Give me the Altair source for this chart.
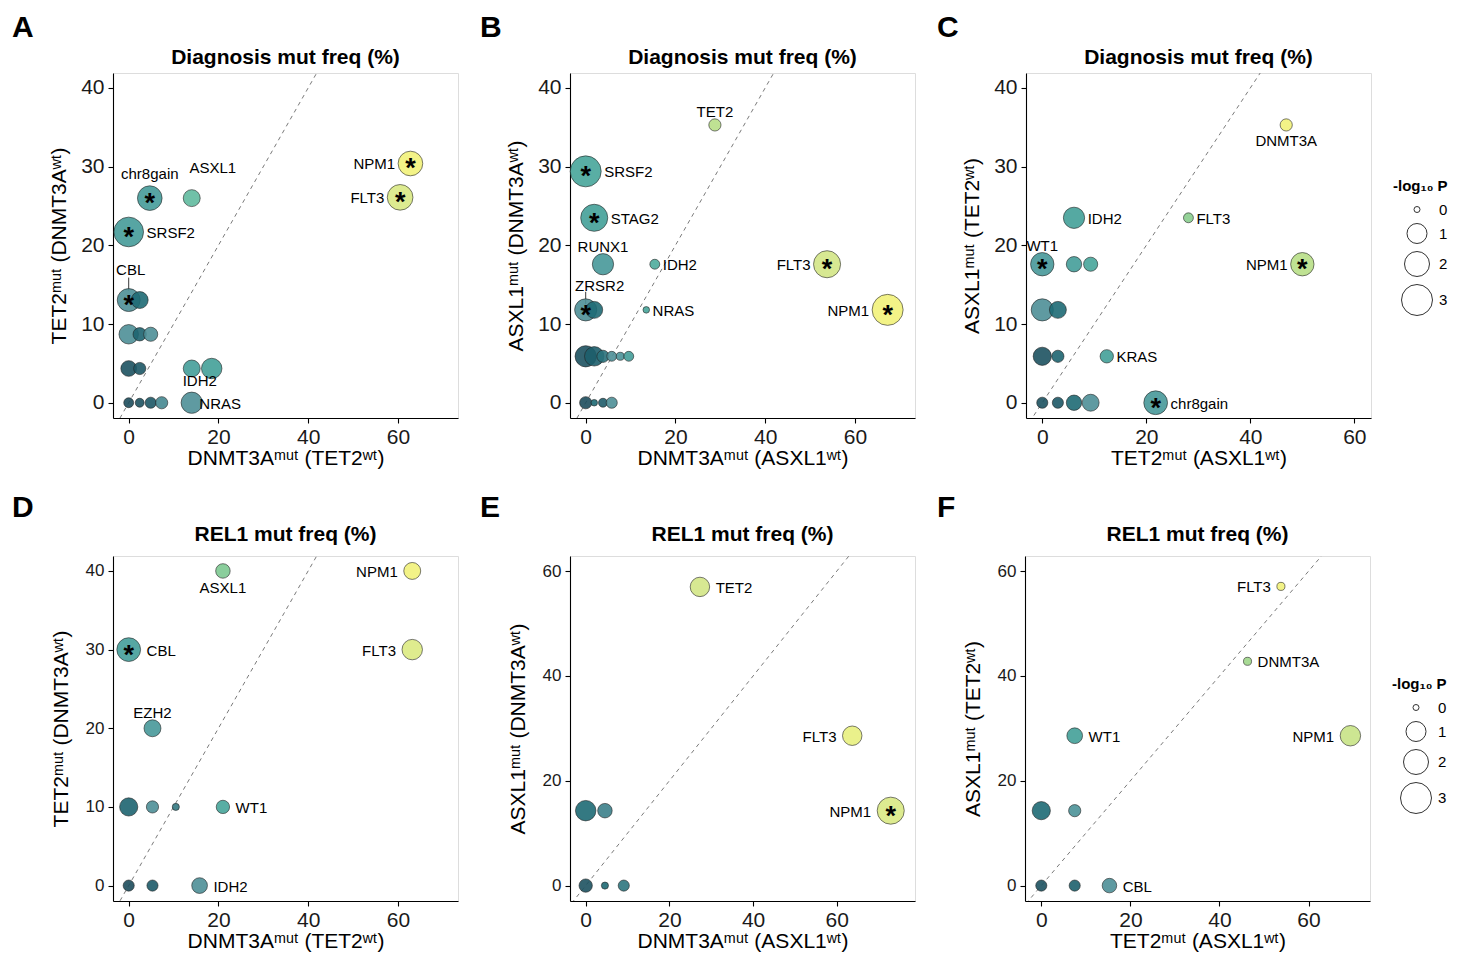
import altair as alt
import pandas as pd
import numpy as np

FONT = "Liberation Sans"

# ---------------- Panel A : Diagnosis, DNMT3A vs TET2 ----------------
A_gene  = ["NPM1", "FLT3", "chr8gain", "ASXL1", "SRSF2", "CBL", "", "", "", "", "", "", "IDH2", "", "NRAS", "", "", "", ""]
A_x     = [62.8, 60.5, 4.7, 14.05, 0.0, 0.0, 2.45, 0.0, 2.45, 4.9, 0.0, 2.45, 14.05, 18.5, 14.05, 0.0, 2.45, 4.9, 7.35]
A_y     = [30.4, 26.1, 26.0, 26.0, 21.7, 13.05, 13.05, 8.7, 8.7, 8.7, 4.35, 4.35, 4.35, 4.35, 0.0, 0.0, 0.0, 0.0, 0.0]
A_logp  = [1.92, 2.1, 1.92, 0.69, 2.76, 1.56, 0.69, 0.94, 0.39, 0.45, 0.58, 0.31, 0.69, 1.08, 1.23, 0.17, 0.12, 0.24, 0.31]
A_shade = [1.0, 0.92, 0.47, 0.62, 0.47, 0.4, 0.3, 0.4, 0.28, 0.4, 0.22, 0.24, 0.48, 0.5, 0.4, 0.2, 0.22, 0.24, 0.38]
A_sig   = [1, 1, 1, 0, 1, 1, 0, 0, 0, 0, 0, 0, 0, 0, 0, 0, 0, 0, 0]
A_side  = ["l", "l", "ah", "ar", "r", "al", "", "", "", "", "", "", "br", "", "ri", "", "", "", ""]

# ---------------- Panel B : Diagnosis, DNMT3A vs ASXL1 ----------------
B_gene  = ["TET2", "SRSF2", "STAG2", "RUNX1", "IDH2", "FLT3", "NPM1", "ZRSR2", "", "NRAS",
           "", "", "", "", "", "", "", "", "", ""]
B_x     = [28.8, 0.0, 1.9, 3.85, 15.4, 53.8, 67.3, 0.0, 1.9, 13.5,
           0.0, 1.9, 3.85, 5.8, 7.7, 9.6, 0.0, 1.9, 3.85, 5.8]
B_y     = [35.3, 29.4, 23.5, 17.6, 17.6, 17.6, 11.8, 11.8, 11.8, 11.8,
           5.9, 5.9, 5.9, 5.9, 5.9, 5.9, 0.0, 0.0, 0.0, 0.0]
B_logp  = [0.31, 3.0, 2.32, 1.23, 0.17, 2.32, 3.0, 1.4, 0.69, 0.02,
           1.23, 0.94, 0.31, 0.17, 0.08, 0.17, 0.31, 0.02, 0.12, 0.24]
B_shade = [0.85, 0.52, 0.5, 0.45, 0.55, 0.9, 1.0, 0.4, 0.3, 0.52,
           0.22, 0.26, 0.32, 0.4, 0.42, 0.48, 0.2, 0.3, 0.25, 0.4]
B_sig   = [0, 1, 1, 0, 0, 1, 1, 1, 0, 0, 0, 0, 0, 0, 0, 0, 0, 0, 0, 0]
B_side  = ["a", "r", "r", "a", "r", "l", "l", "alr", "", "r", "", "", "", "", "", "", "", "", "", ""]

# ---------------- Panel C : Diagnosis, TET2 vs ASXL1 ----------------
C_gene  = ["DNMT3A", "IDH2", "FLT3", "WT1", "", "", "NPM1", "", "", "", "", "KRAS", "chr8gain", "", "", "", ""]
C_x     = [46.9, 6.1, 28.1, 0.0, 6.1, 9.3, 50.0, 0.0, 3.0, 0.0, 3.0, 12.4, 21.8, 0.0, 3.0, 6.1, 9.3]
C_y     = [35.3, 23.5, 23.5, 17.6, 17.6, 17.6, 17.6, 11.8, 11.8, 5.9, 5.9, 5.9, 0.0, 0.0, 0.0, 0.0, 0.0]
C_logp  = [0.31, 1.23, 0.17, 1.65, 0.55, 0.45, 1.65, 1.4, 0.69, 0.81, 0.31, 0.39, 1.73, 0.24, 0.24, 0.55, 0.69]
C_shade = [1.0, 0.5, 0.75, 0.45, 0.48, 0.52, 0.85, 0.4, 0.3, 0.22, 0.28, 0.5, 0.45, 0.22, 0.24, 0.3, 0.4]
C_sig   = [0, 0, 0, 1, 0, 0, 1, 0, 0, 0, 0, 0, 1, 0, 0, 0, 0]
C_side  = ["b", "r", "r", "a", "", "", "l", "", "", "", "", "r", "r", "", "", "", ""]

# ---------------- Panel D : REL1, DNMT3A vs TET2 ----------------
D_gene  = ["ASXL1", "NPM1", "CBL", "FLT3", "EZH2", "", "", "", "WT1", "", "", "IDH2"]
D_x     = [21.0, 63.2, 0.0, 63.2, 5.3, 0.0, 5.3, 10.5, 21.0, 0.0, 5.3, 15.8]
D_y     = [40.0, 40.0, 30.0, 30.0, 20.0, 10.0, 10.0, 10.0, 10.0, 0.0, 0.0, 0.0]
D_logp  = [0.48, 0.69, 1.73, 1.08, 0.69, 0.81, 0.31, 0.04, 0.39, 0.24, 0.24, 0.58]
D_shade = [0.72, 1.0, 0.48, 0.93, 0.45, 0.28, 0.4, 0.34, 0.52, 0.2, 0.25, 0.4]
D_sig   = [0, 0, 1, 0, 0, 0, 0, 0, 0, 0, 0, 0]
D_side  = ["b", "l", "r", "l", "a", "", "", "", "r", "", "", "r"]

# ---------------- Panel E : REL1, DNMT3A vs ASXL1 ----------------
E_gene  = ["TET2", "FLT3", "NPM1", "", "", "", "", ""]
E_x     = [27.3, 63.7, 72.9, 0.0, 4.6, 0.0, 4.6, 9.1]
E_y     = [57.0, 28.6, 14.3, 14.3, 14.3, 0.0, 0.0, 0.0]
E_logp  = [0.94, 0.94, 2.32, 1.08, 0.48, 0.39, 0.04, 0.24]
E_shade = [0.9, 0.97, 0.92, 0.3, 0.36, 0.22, 0.3, 0.33]
E_sig   = [0, 0, 1, 0, 0, 0, 0, 0]
E_side  = ["r", "l", "l", "", "", "", "", ""]

# ---------------- Panel F : REL1, TET2 vs ASXL1 ----------------
F_gene  = ["FLT3", "DNMT3A", "WT1", "NPM1", "", "", "", "", "CBL"]
F_x     = [53.8, 46.3, 7.5, 69.4, 0.0, 7.5, 0.0, 7.5, 15.3]
F_y     = [57.1, 42.8, 28.6, 28.6, 14.3, 14.3, 0.0, 0.0, 0.0]
F_logp  = [0.08, 0.08, 0.58, 1.08, 0.81, 0.31, 0.24, 0.24, 0.48]
F_shade = [1.0, 0.8, 0.5, 0.88, 0.3, 0.42, 0.22, 0.27, 0.4]
F_sig   = [0, 0, 0, 0, 0, 0, 0, 0, 0]
F_side  = ["l", "r", "r", "l", "", "", "", "", "r"]

# ---------------- scales / texts ----------------
SIZE_DOMAIN = [0, 1, 2, 3]
SIZE_RANGE = [36, 400, 625, 961]
SHADE_DOMAIN = [0.2, 0.3, 0.4, 0.5, 0.6, 0.75, 0.9, 1.0]
SHADE_RANGE = ["#1d4c5c", "#1e6a74", "#4e8f97", "#42a098", "#5cb7a0", "#88cd8d", "#d3e686", "#f2f27a"]

T_DIAG = "Diagnosis mut freq (%)"
T_REL = "REL1 mut freq (%)"
X_DT = "DNMT3Aᵐᵘᵗ (TET2ʷᵗ)"
Y_TD = "TET2ᵐᵘᵗ (DNMT3Aʷᵗ)"
X_DA = "DNMT3Aᵐᵘᵗ (ASXL1ʷᵗ)"
Y_AD = "ASXL1ᵐᵘᵗ (DNMT3Aʷᵗ)"
X_TA = "TET2ᵐᵘᵗ (ASXL1ʷᵗ)"
Y_AT = "ASXL1ᵐᵘᵗ (TET2ʷᵗ)"
LEGEND_TITLE = "-log₁₀ P"

W = 345
H = 345

panels = [
    dict(letter="A", title=T_DIAG, xt=X_DT, yt=Y_TD, gene=A_gene, x=A_x, y=A_y, logp=A_logp, shade=A_shade, sig=A_sig, side=A_side,
         xdom=[-3.5, 73.4], ydom=[-1.94, 41.9], xticks=[0, 20, 40, 60], yticks=[0, 10, 20, 30, 40], row=1, lx=-101, legend=False),
    dict(letter="B", title=T_DIAG, xt=X_DA, yt=Y_AD, gene=B_gene, x=B_x, y=B_y, logp=B_logp, shade=B_shade, sig=B_sig, side=B_side,
         xdom=[-3.5, 73.4], ydom=[-1.94, 41.9], xticks=[0, 20, 40, 60], yticks=[0, 10, 20, 30, 40], row=1, lx=-90, legend=False),
    dict(letter="C", title=T_DIAG, xt=X_TA, yt=Y_AT, gene=C_gene, x=C_x, y=C_y, logp=C_logp, shade=C_shade, sig=C_sig, side=C_side,
         xdom=[-3.13, 63.2], ydom=[-1.94, 41.9], xticks=[0, 20, 40, 60], yticks=[0, 10, 20, 30, 40], row=1, lx=-89, legend=True),
    dict(letter="D", title=T_REL, xt=X_DT, yt=Y_TD, gene=D_gene, x=D_x, y=D_y, logp=D_logp, shade=D_shade, sig=D_sig, side=D_side,
         xdom=[-3.5, 73.4], ydom=[-1.96, 41.9], xticks=[0, 20, 40, 60], yticks=[0, 10, 20, 30, 40], row=2, lx=-101, legend=False),
    dict(letter="E", title=T_REL, xt=X_DA, yt=Y_AD, gene=E_gene, x=E_x, y=E_y, logp=E_logp, shade=E_shade, sig=E_sig, side=E_side,
         xdom=[-3.75, 78.7], ydom=[-2.94, 62.9], xticks=[0, 20, 40, 60], yticks=[0, 20, 40, 60], row=2, lx=-90, legend=False),
    dict(letter="F", title=T_REL, xt=X_TA, yt=Y_AT, gene=F_gene, x=F_x, y=F_y, logp=F_logp, shade=F_shade, sig=F_sig, side=F_side,
         xdom=[-3.66, 73.8], ydom=[-2.94, 62.9], xticks=[0, 20, 40, 60], yticks=[0, 20, 40, 60], row=2, lx=-88, legend=True),
]


def diam(v):
    return float(np.sqrt(np.interp(v, SIZE_DOMAIN, SIZE_RANGE)))


def placement(code, r, gap):
    if code == "r":
        return dict(align="left", baseline="middle", dx=r + gap, dy=1)
    if code == "ri":
        return dict(align="left", baseline="middle", dx=r - 3, dy=1)
    if code == "l":
        return dict(align="right", baseline="middle", dx=-(r + gap), dy=1)
    if code == "a":
        return dict(align="center", baseline="alphabetic", dx=0, dy=-(r + 2))
    if code == "ah":
        return dict(align="center", baseline="alphabetic", dx=0, dy=-(r + 7))
    if code == "ar":
        return dict(align="center", baseline="alphabetic", dx=21, dy=-(r + 17))
    if code == "b":
        return dict(align="center", baseline="top", dx=0, dy=r + 3)
    if code == "br":
        return dict(align="center", baseline="top", dx=8, dy=r - 3)
    if code == "al":
        return dict(align="center", baseline="alphabetic", dx=2, dy=-(r + 14))
    if code == "alr":
        return dict(align="center", baseline="alphabetic", dx=14, dy=-(r + 8))
    return dict(align="left", baseline="middle", dx=r + gap, dy=1)


def make_axis(title, ticks, lab_size, tpad, lpad):
    return alt.Axis(title=title, values=ticks, format="d", grid=False,
                    labelFont=FONT, labelFontSize=lab_size, labelColor="#1a1a1a", labelPadding=lpad,
                    titleFont=FONT, titleFontSize=21, titleFontWeight="normal", titleColor="black",
                    titlePadding=tpad, tickSize=5, tickColor="black", tickWidth=1.1,
                    domainColor="black", domainWidth=1.1)


size_scale = alt.Scale(domain=SIZE_DOMAIN, range=SIZE_RANGE, clamp=True)
shade_scale = alt.Scale(domain=SHADE_DOMAIN, range=SHADE_RANGE, clamp=True)


def build(p):
    row = p["row"]
    df = pd.DataFrame({"gene": p["gene"], "x": p["x"], "y": p["y"], "logp": p["logp"],
                       "shade": p["shade"], "sig": p["sig"], "side": p["side"]})
    xs = alt.Scale(domain=p["xdom"], nice=False, zero=False)
    ys = alt.Scale(domain=p["ydom"], nice=False, zero=False)
    ylab = 21 if row == 1 else 17
    ytp = 11 if row == 1 else 14
    xax = make_axis(p["xt"], p["xticks"], 21, 0, 3)
    yax = make_axis(p["yt"], p["yticks"], ylab, ytp, 4)
    X = alt.X("x:Q", scale=xs, axis=xax)
    Y = alt.Y("y:Q", scale=ys, axis=yax)
    gap = 3 if row == 1 else 6
    ppu = H / (p["ydom"][1] - p["ydom"][0])

    layers = []
    diag_df = pd.DataFrame({"x": [-100.0], "y": [-100.0], "x2": [200.0], "y2": [200.0]})
    layers.append(alt.Chart(diag_df).mark_rule(color="#7a7a7a", strokeDash=[4, 4], strokeWidth=1, clip=True)
                  .encode(x=X, y=Y, x2="x2:Q", y2="y2:Q"))

    # leader lines
    lead_rows = []
    for i, s in enumerate(p["side"]):
        if s in ("al", "alr"):
            r = diam(p["logp"][i]) / 2
            a, b = ((r - 2), (r + 11)) if s == "al" else ((r - 5), (r + 7))
            lead_rows.append({"x": p["x"][i], "y": p["y"][i] + a / ppu, "y2": p["y"][i] + b / ppu})
    if lead_rows:
        layers.append(alt.Chart(pd.DataFrame(lead_rows)).mark_rule(color="#222", strokeWidth=0.9)
                      .encode(x=X, y=Y, y2="y2:Q"))

    if p["legend"]:
        leg = alt.Legend(title=LEGEND_TITLE, values=[0, 1, 2, 3], format="d", orient="none",
                         legendX=367, legendY=106 if row == 1 else 121,
                         symbolOffset=8, labelOffset=6, rowPadding=3, titlePadding=8,
                         titleFont=FONT, titleFontSize=15, titleFontWeight="bold", titleColor="black",
                         labelFont=FONT, labelFontSize=15, labelColor="black",
                         symbolFillColor="white", symbolStrokeColor="#333", symbolStrokeWidth=1,
                         symbolType="circle", symbolOpacity=1)
    else:
        leg = None

    layers.append(alt.Chart(df).mark_circle(opacity=1, fillOpacity=0.9, stroke="#222", strokeWidth=0.7, strokeOpacity=0.85)
                  .encode(x=X, y=Y,
                          size=alt.Size("logp:Q", scale=size_scale, legend=leg),
                          fill=alt.Fill("shade:Q", scale=shade_scale, legend=None)))

    layers.append(alt.Chart(df).transform_filter("datum.sig == 1")
                  .mark_text(text="*", font=FONT, fontSize=27, fontWeight="bold", baseline="alphabetic",
                             align="center", dy=14, color="black")
                  .encode(x=X, y=Y))

    for i, g in enumerate(p["gene"]):
        if not g:
            continue
        r = diam(p["logp"][i]) / 2
        pl = placement(p["side"][i], r, gap)
        sub = df.iloc[[i]]
        layers.append(alt.Chart(sub).mark_text(font=FONT, fontSize=15, color="black", **pl)
                      .encode(x=X, y=Y, text="gene:N"))

    head_df = pd.DataFrame({"letter": [p["letter"]], "title": [p["title"]]})
    layers.append(alt.Chart(head_df).mark_text(font=FONT, fontSize=30, fontWeight="bold", align="left",
                                                baseline="alphabetic", color="black")
                  .encode(x=alt.value(p["lx"]), y=alt.value(-36 if row == 1 else -39), text="letter:N"))
    layers.append(alt.Chart(head_df).mark_text(font=FONT, fontSize=21, fontWeight="bold", align="center",
                                                baseline="alphabetic", color="black")
                  .encode(x=alt.value(W / 2), y=alt.value(-9 if row == 1 else -15.5), text="title:N"))

    return alt.layer(*layers).properties(width=W, height=H)


charts = [build(p) for p in panels]


def resolve(c):
    return c.resolve_scale(x="independent", y="independent", size="independent", fill="independent") \
            .resolve_legend(size="independent")


row1 = resolve(alt.hconcat(charts[0], charts[1], charts[2], spacing=20))
row2 = resolve(alt.hconcat(charts[3], charts[4], charts[5], spacing=20))
chart = resolve(alt.vconcat(row1, row2, spacing=23)).properties(
    padding={"left": 3, "top": 4, "right": 2, "bottom": 0}
).configure_view(strokeWidth=0, strokeOpacity=0).configure(background="white")

chart.save("out.html", embed_options={"renderer": "svg", "actions": False})
